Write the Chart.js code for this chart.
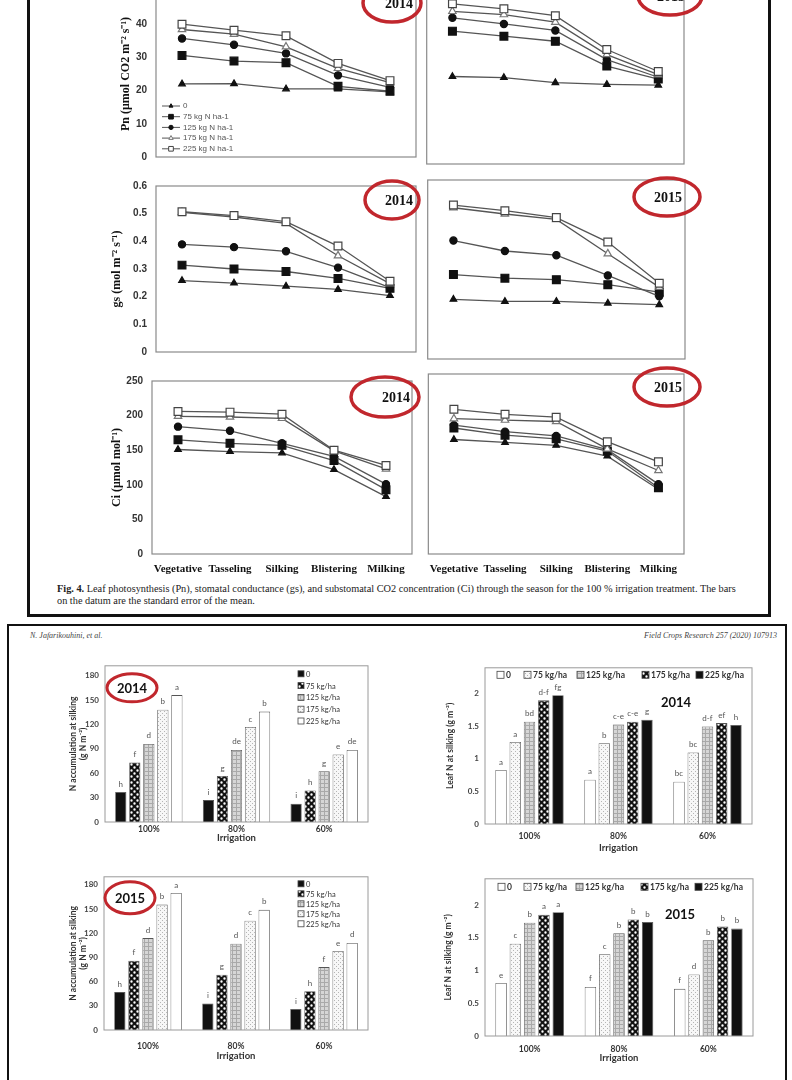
<!DOCTYPE html>
<html>
<head>
<meta charset="utf-8">
<script src="https://cdn.jsdelivr.net/npm/chart.js@4.4.1/dist/chart.umd.min.js"></script>
<style>
body { margin: 0; background: #fff; }
#page { position: relative; width: 792px; height: 1080px; overflow: hidden; background: #fff; }
canvas { position: absolute; }
.txt { position: absolute; white-space: nowrap; color: #222; }
.frameBox { position: absolute; box-sizing: border-box; border: 3px solid #111; }
</style>
</head>
<body>
<div id="page">
  <div class="frameBox" style="left:27px;top:-10px;width:744px;height:627px;"></div>
  <div class="frameBox" style="left:7px;top:624px;width:780px;height:480px;border-width:2.5px;"></div>
  <div class="txt" style="left:57px;top:583px;font:10.3px 'Liberation Serif';">
    <b>Fig. 4.</b> Leaf photosynthesis (Pn), stomatal conductance (gs), and substomatal CO2 concentration (Ci) through the season for the 100 % irrigation treatment. The bars
  </div>
  <div class="txt" style="left:57px;top:595px;font:10.3px 'Liberation Serif';">on the datum are the standard error of the mean.</div>
  <div class="txt" style="left:30px;top:631px;font:italic 8px 'Liberation Serif';color:#444;">N. Jafarikouhini, et al.</div>
  <div class="txt" style="right:15px;top:631px;font:italic 8px 'Liberation Serif';color:#444;">Field Crops Research 257 (2020) 107913</div>
</div>
<script>
// growth stages and nitrogen rates (line panels)
const stages = ['Vegetative', 'Tasseling', 'Silking', 'Blistering', 'Milking'];
const nRates = ['0', '75 kg N ha-1', '125 kg N ha-1', '175 kg N ha-1', '225 kg N ha-1'];

// rows: 0, 75, 125, 175, 225 kg N/ha ; columns: stages
const pn2014 = [
    [22.0, 22.1, 20.5, 20.5, 19.6],
    [30.6, 28.9, 28.4, 21.3, 19.8],
    [35.7, 33.8, 31.2, 24.6, 21.0],
    [38.4, 37.0, 33.2, 26.7, 22.4],
    [40.0, 38.2, 36.5, 28.2, 23.0]
];
const pn2015 = [
    [24.3, 24.0, 22.6, 22.1, 21.9],
    [36.9, 35.5, 34.1, 27.2, 23.6],
    [40.6, 38.9, 37.1, 29.0, 24.1],
    [42.4, 41.5, 39.4, 30.4, 24.8],
    [44.5, 43.1, 41.2, 31.8, 25.7]
];
const gs2014 = [
    [0.258, 0.249, 0.238, 0.226, 0.204],
    [0.314, 0.300, 0.291, 0.266, 0.230],
    [0.389, 0.379, 0.364, 0.305, 0.233],
    [0.505, 0.488, 0.465, 0.348, 0.247],
    [0.507, 0.493, 0.471, 0.383, 0.256]
];
const gs2015 = [
    [0.200, 0.193, 0.193, 0.187, 0.182],
    [0.283, 0.271, 0.266, 0.249, 0.224],
    [0.397, 0.362, 0.348, 0.280, 0.210],
    [0.507, 0.486, 0.468, 0.353, 0.241],
    [0.516, 0.497, 0.474, 0.392, 0.254]
];
const ci2014 = [
    [151, 148, 146, 122, 83],
    [165, 160, 157, 135, 93],
    [184, 178, 160, 141, 101],
    [199, 198, 196, 149, 123],
    [206, 205, 202, 150, 128]
];
const ci2015 = [
    [159, 155, 151, 136, 90],
    [175, 165, 160, 143, 92],
    [179, 170, 164, 145, 97],
    [188, 186, 184, 146, 116],
    [201, 194, 190, 156, 128]
];
// y axis [min, max, step]
const pnAxis = [0, 50, 10];
const gsAxis = [0, 0.6, 0.1];
const ciAxis = [0, 250, 50];

// bar panels: irrigation levels, rates
const irrigation = ['100%', '80%', '60%'];
const barRates = ['0', '75 kg/ha', '125 kg/ha', '175 kg/ha', '225 kg/ha'];

// rows: rates ; columns: 100%, 80%, 60%
const nAcc2014 = [
    [36.8, 26.9, 22.5],
    [73.2, 56.6, 38.8],
    [96, 88.6, 62.5],
    [138, 116.7, 83],
    [156, 135.7, 88.6]
];
const nAcc2014Letters = [['h', 'i', 'i'], ['f', 'g', 'h'], ['d', 'de', 'g'], ['b', 'c', 'e'], ['a', 'b', 'de']];
const leafN2014 = [
    [0.83, 0.68, 0.65],
    [1.26, 1.24, 1.10],
    [1.57, 1.53, 1.50],
    [1.90, 1.57, 1.55],
    [1.98, 1.60, 1.52]
];
const leafN2014Letters = [['a', 'a', 'bc'], ['a', 'b', 'bc'], ['bd', 'c-e', 'd-f'], ['d-f', 'c-e', 'ef'], ['fg', 'g', 'h']];
const nAcc2015 = [
    [47, 33, 26],
    [86, 68.5, 48],
    [114, 107, 78],
    [155.5, 135.5, 98],
    [170, 149, 108]
];
const nAcc2015Letters = [['h', 'i', 'i'], ['f', 'g', 'h'], ['d', 'd', 'f'], ['b', 'c', 'e'], ['a', 'b', 'd']];
const leafN2015 = [
    [0.81, 0.75, 0.72],
    [1.41, 1.25, 0.94],
    [1.73, 1.57, 1.46],
    [1.85, 1.78, 1.67],
    [1.89, 1.74, 1.64]
];
const leafN2015Letters = [['e', 'f', 'f'], ['c', 'c', 'd'], ['b', 'b', 'b'], ['a', 'b', 'b'], ['a', 'b', 'b']];
const nAccAxis = [0, 192, 30];
const leafAxis = [0, 2.4, 0.5];

const page = document.getElementById('page');
const RED = '#c1272d';
const numFmt = v => String(+Number(v).toFixed(2));

function addCanvas(left, top, w, h) {
    const c = document.createElement('canvas');
    c.width = w; c.height = h;
    c.style.left = left + 'px'; c.style.top = top + 'px';
    c.style.width = w + 'px'; c.style.height = h + 'px';
    page.appendChild(c);
    return c;
}

function framePlugin(color, width) {
    return {
        id: 'frame',
        afterDraw(chart) {
            const a = chart.chartArea, c = chart.ctx;
            c.save();
            c.strokeStyle = color; c.lineWidth = width;
            c.strokeRect(a.left, a.top, a.right - a.left, a.bottom - a.top);
            c.restore();
        }
    };
}

function tagPlugin(t) {
    return {
        id: 'tag',
        afterDraw(chart) {
            const a = chart.chartArea, c = chart.ctx;
            const cx = (t.anchor === 'right' ? a.right : a.left) + t.ox;
            const cy = a.top + t.oy;
            c.save();
            c.font = t.font; c.fillStyle = '#111';
            c.textAlign = 'center'; c.textBaseline = 'middle';
            c.fillText(t.text, cx + (t.tx || 0), cy + 1);
            if (t.rx) {
                c.beginPath();
                c.ellipse(cx, cy, t.rx, t.ry, 0, 0, Math.PI * 2);
                c.lineWidth = t.lw || 3.5; c.strokeStyle = RED;
                c.stroke();
            }
            c.restore();
        }
    };
}

// legend with line + marker, inside bottom-left of the Pn panel
function lineLegendPlugin(lg) {
    return {
        id: 'lineLegend',
        afterDraw(chart) {
            const a = chart.chartArea, c = chart.ctx;
            c.save();
            c.font = '8px "Liberation Sans"'; c.textBaseline = 'middle';
            chart.data.datasets.forEach((ds, i) => {
                const x = a.left + lg.ox, y = a.bottom - lg.fromBottom + i * lg.spacing;
                c.strokeStyle = ds.borderColor; c.lineWidth = 1;
                c.beginPath(); c.moveTo(x, y); c.lineTo(x + 18, y); c.stroke();
                c.fillStyle = ds.pointBackgroundColor; c.strokeStyle = ds.pointBorderColor;
                Chart.helpers.drawPoint(c, {pointStyle: ds.pointStyle, radius: ds.pointRadius * 0.6, borderWidth: 1, rotation: 0}, x + 9, y);
                c.fillStyle = '#555';
                c.fillText(ds.label, x + 21, y);
            });
            c.restore();
        }
    };
}

function barLegendPlugin(lg) {
    return {
        id: 'barLegend',
        afterDraw(chart) {
            const a = chart.chartArea, c = chart.ctx;
            c.save();
            c.font = lg.font; c.textBaseline = 'middle'; c.fillStyle = '#333';
            chart.data.datasets.forEach((ds, i) => {
                let x, y;
                if (lg.dir === 'v') { x = a.right + lg.ox; y = a.top + lg.oy + i * lg.spacing; }
                else { x = a.left + lg.xs[i]; y = a.top + lg.oy; }
                const s = lg.box;
                c.fillStyle = ds.backgroundColor;
                c.fillRect(x, y - s / 2, s, s);
                c.strokeStyle = '#444'; c.lineWidth = 0.8;
                c.strokeRect(x, y - s / 2, s, s);
                c.fillStyle = '#333';
                c.fillText(ds.label, x + s + 2, y + 0.5);
            });
            c.restore();
        }
    };
}

const lettersPlugin = {
    id: 'letters',
    afterDatasetsDraw(chart) {
        const c = chart.ctx;
        c.save();
        c.font = '8px Lato'; c.fillStyle = '#555';
        c.textAlign = 'center'; c.textBaseline = 'bottom';
        chart.data.datasets.forEach((ds, i) => {
            chart.getDatasetMeta(i).data.forEach((bar, j) => {
                c.fillText(ds.letters[j], bar.x, bar.y - 4);
            });
        });
        c.restore();
    }
};

function pattern(kind) {
    const t = document.createElement('canvas');
    const g = t.getContext('2d');
    if (kind === 'check') {
        t.width = t.height = 6;
        g.fillStyle = '#111'; g.fillRect(0, 0, 6, 6);
        g.fillStyle = '#fff';
        g.beginPath(); g.arc(1.5, 1.5, 1.2, 0, Math.PI * 2); g.arc(4.5, 4.5, 1.2, 0, Math.PI * 2); g.fill();
    } else if (kind === 'grid') {
        t.width = t.height = 4;
        g.fillStyle = '#d6d6d6'; g.fillRect(0, 0, 4, 4);
        g.fillStyle = '#a9a9a9'; g.fillRect(0, 0, 4, 1); g.fillRect(0, 0, 1, 4);
    } else {
        t.width = t.height = 4;
        g.fillStyle = '#f7f7f7'; g.fillRect(0, 0, 4, 4);
        g.fillStyle = '#b5b5b5'; g.fillRect(0, 0, 1, 1); g.fillRect(2, 2, 1, 1);
    }
    return g.createPattern(t, 'repeat');
}

const markers = [
    {pointStyle: 'triangle', pointRadius: 3.8, pointBackgroundColor: '#111', pointBorderColor: '#111'},
    {pointStyle: 'rect', pointRadius: 5.5, pointBackgroundColor: '#111', pointBorderColor: '#111'},
    {pointStyle: 'circle', pointRadius: 3.6, pointBackgroundColor: '#111', pointBorderColor: '#111'},
    {pointStyle: 'triangle', pointRadius: 4.3, pointBackgroundColor: '#fff', pointBorderColor: '#777'},
    {pointStyle: 'rect', pointRadius: 5.5, pointBackgroundColor: '#fff', pointBorderColor: '#444'}
];

function lineChart(o) {
    const [l, t, r, b] = o.frame;
    const padL = o.yW ? 0 : 4, padR = o.padR, padT = 8, padB = 8;
    const cv = addCanvas(l - o.yW - padL, t - padT, o.yW + padL + (r - l) + padR, padT + (b - t) + o.xH + padB);
    const plugins = [framePlugin('#8a8a8a', 1.2), tagPlugin(o.tag)];
    if (o.legend) plugins.push(lineLegendPlugin(o.legend));
    return new Chart(cv, {
        type: 'line',
        data: {
            labels: stages,
            datasets: o.rows.map((row, i) => Object.assign({
                label: nRates[i], data: row, order: 5 - i,
                borderColor: '#555', borderWidth: 1.3, pointBorderWidth: 1.2, tension: 0
            }, markers[i]))
        },
        options: {
            responsive: false, animation: false,
            layout: {padding: {top: padT, bottom: padB, left: padL, right: padR}},
            plugins: {legend: {display: false}, tooltip: {enabled: false}},
            scales: {
                x: {
                    type: 'category', offset: true,
                    grid: {display: false, drawTicks: false}, border: {display: false},
                    ticks: {display: o.xH > 0, padding: 9, maxRotation: 0, autoSkip: false,
                        color: '#111', font: {family: '"Liberation Serif"', size: 11, weight: 'bold'}},
                    afterFit: s => { s.height = o.xH; }
                },
                y: {
                    display: o.yW > 0,
                    min: o.axis[0], max: o.axis[1],
                    grid: {display: false, drawTicks: false}, border: {display: false},
                    ticks: {stepSize: o.axis[2], padding: 9, color: '#333', callback: numFmt,
                        font: {family: '"Liberation Sans"', size: 10, weight: 'bold'}},
                    title: {display: true, text: o.title, color: '#111', padding: {top: 3, bottom: 4},
                        font: {family: '"Liberation Serif"', size: 12, weight: 'bold'}},
                    afterFit: s => { s.width = o.yW; }
                }
            }
        },
        plugins
    });
}

function barChart(o) {
    const [l, t, r, b] = o.frame;
    const padT = 4, padR = 6, padB = 2;
    const cv = addCanvas(l - o.yW, t - padT, o.yW + (r - l) + padR, padT + (b - t) + o.xH + padB);
    return new Chart(cv, {
        type: 'bar',
        data: {
            labels: irrigation,
            datasets: o.series.map((row, i) => ({
                label: barRates[i], data: row, letters: o.letters[i],
                backgroundColor: o.fills[i], borderColor: '#555', borderWidth: 0.8,
                categoryPercentage: 0.8, barPercentage: 0.8
            }))
        },
        options: {
            responsive: false, animation: false,
            layout: {padding: {top: padT, bottom: padB, left: 0, right: padR}},
            plugins: {legend: {display: false}, tooltip: {enabled: false}},
            scales: {
                x: {
                    grid: {display: false, drawTicks: false}, border: {display: false},
                    ticks: {padding: o.xPad, color: '#333', font: {family: 'Lato', size: 8.5, weight: 'bold'}},
                    title: {display: true, text: 'Irrigation', color: '#333', padding: {top: 0, bottom: 4},
                        font: {family: 'Lato', size: 9.5, weight: 'bold'}},
                    afterFit: s => { s.height = o.xH; }
                },
                y: {
                    min: o.axis[0], max: o.axis[1],
                    grid: {display: false, drawTicks: false}, border: {display: false},
                    ticks: {stepSize: o.axis[2], includeBounds: false, padding: 6, color: '#444', callback: numFmt,
                        font: {family: 'Lato', size: 8, weight: 'bold'}},
                    title: {display: true, text: o.title, color: '#333', padding: {top: 4, bottom: 4},
                        font: {family: 'Lato', size: 8.5, weight: 'bold'}},
                    afterFit: s => { s.width = o.yW; }
                }
            }
        },
        plugins: [framePlugin('#9a9a9a', 1), lettersPlugin, tagPlugin(o.tag), barLegendPlugin(o.legend)]
    });
}

const serifTag = 'bold 14px "Liberation Serif"';

// top figure: Pn, gs, Ci for 2014 (left) and 2015 (right)
lineChart({frame: [156, -16, 416, 164], yW: 40, padR: 8, xH: 0, rows: pn2014, axis: pnAxis,
    title: 'Pn (\u03bcmol CO2 m\u207b\u00b2 s\u207b\u00b9)',
    tag: {text: '2014', anchor: 'right', ox: -24, oy: 12, rx: 29, ry: 19, tx: 7, font: serifTag},
    legend: {ox: 6, fromBottom: 51, spacing: 10.7}});
lineChart({frame: [424, -16, 684, 164], yW: 0, padR: 24, xH: 0, rows: pn2015, axis: pnAxis, title: '',
    tag: {text: '2015', anchor: 'right', ox: -14, oy: 12, rx: 32, ry: 19, tx: 1, font: serifTag}});

lineChart({frame: [156, 179, 416, 359], yW: 49, padR: 8, xH: 0, rows: gs2014, axis: gsAxis,
    title: 'gs (mol m\u207b\u00b2 s\u207b\u00b9)',
    tag: {text: '2014', anchor: 'right', ox: -24, oy: 14, rx: 27, ry: 19, tx: 7, font: serifTag}});
lineChart({frame: [425, 180, 685, 359], yW: 0, padR: 24, xH: 0, rows: gs2015, axis: gsAxis, title: '',
    tag: {text: '2015', anchor: 'right', ox: -18, oy: 17, rx: 33, ry: 19, tx: 1, font: serifTag}});

lineChart({frame: [152, 374, 412, 554], yW: 45, padR: 10, xH: 30, rows: ci2014, axis: ciAxis,
    title: 'Ci (\u03bcmol mol\u207b\u00b9)',
    tag: {text: '2014', anchor: 'right', ox: -27, oy: 16, rx: 34, ry: 20, tx: 11, font: serifTag}});
lineChart({frame: [424, 374, 684, 554], yW: 0, padR: 24, xH: 30, rows: ci2015, axis: ciAxis, title: '',
    tag: {text: '2015', anchor: 'right', ox: -17, oy: 13, rx: 33, ry: 19, tx: 1, font: serifTag}});

// bottom figure: bar charts
const black = '#111', white = '#fff';
const fillsAcc = [black, pattern('check'), pattern('grid'), pattern('dots'), white];
const fillsLeaf = [white, pattern('dots'), pattern('grid'), pattern('check'), black];
const sansTag = 'bold 13px Lato';

barChart({frame: [105, 659, 368, 822], yW: 41, xH: 26, xPad: 2, series: nAcc2014, letters: nAcc2014Letters,
    fills: fillsAcc, axis: nAccAxis, title: ['N accumulation at silking', '(g N m\u207b\u00b2)'],
    tag: {text: '2014', anchor: 'left', ox: 27, oy: 22, rx: 25, ry: 14, lw: 3, font: sansTag},
    legend: {dir: 'v', ox: -70, oy: 8, spacing: 11.8, box: 6, font: '7.5px Lato'}});
barChart({frame: [485, 661, 752, 824], yW: 44, xH: 34, xPad: 7, series: leafN2014, letters: leafN2014Letters,
    fills: fillsLeaf, axis: leafAxis, title: 'Leaf N at silking (g m\u207b\u00b2)',
    tag: {text: '2014', anchor: 'right', ox: -76, oy: 34, font: sansTag},
    legend: {dir: 'h', xs: [12, 39, 92, 157, 211], oy: 7, box: 7, font: 'bold 8.5px Lato'}});
barChart({frame: [104, 870, 368, 1030], yW: 40, xH: 36, xPad: 11, series: nAcc2015, letters: nAcc2015Letters,
    fills: fillsAcc, axis: [0, 190, 30], title: ['N accumulation at silking', '(g N m\u207b\u00b2)'],
    tag: {text: '2015', anchor: 'left', ox: 26, oy: 21, rx: 25, ry: 16, lw: 3, font: sansTag},
    legend: {dir: 'v', ox: -70, oy: 7, spacing: 10, box: 6, font: '7.5px Lato'}});
barChart({frame: [485, 872, 753, 1036], yW: 46, xH: 32, xPad: 8, series: leafN2015, letters: leafN2015Letters,
    fills: fillsLeaf, axis: leafAxis, title: 'Leaf N at silking (g m\u207b\u00b2)',
    tag: {text: '2015', anchor: 'right', ox: -73, oy: 35, font: sansTag},
    legend: {dir: 'h', xs: [13, 39, 91, 156, 210], oy: 8, box: 7, font: 'bold 8.5px Lato'}});
</script>
</body>
</html>
